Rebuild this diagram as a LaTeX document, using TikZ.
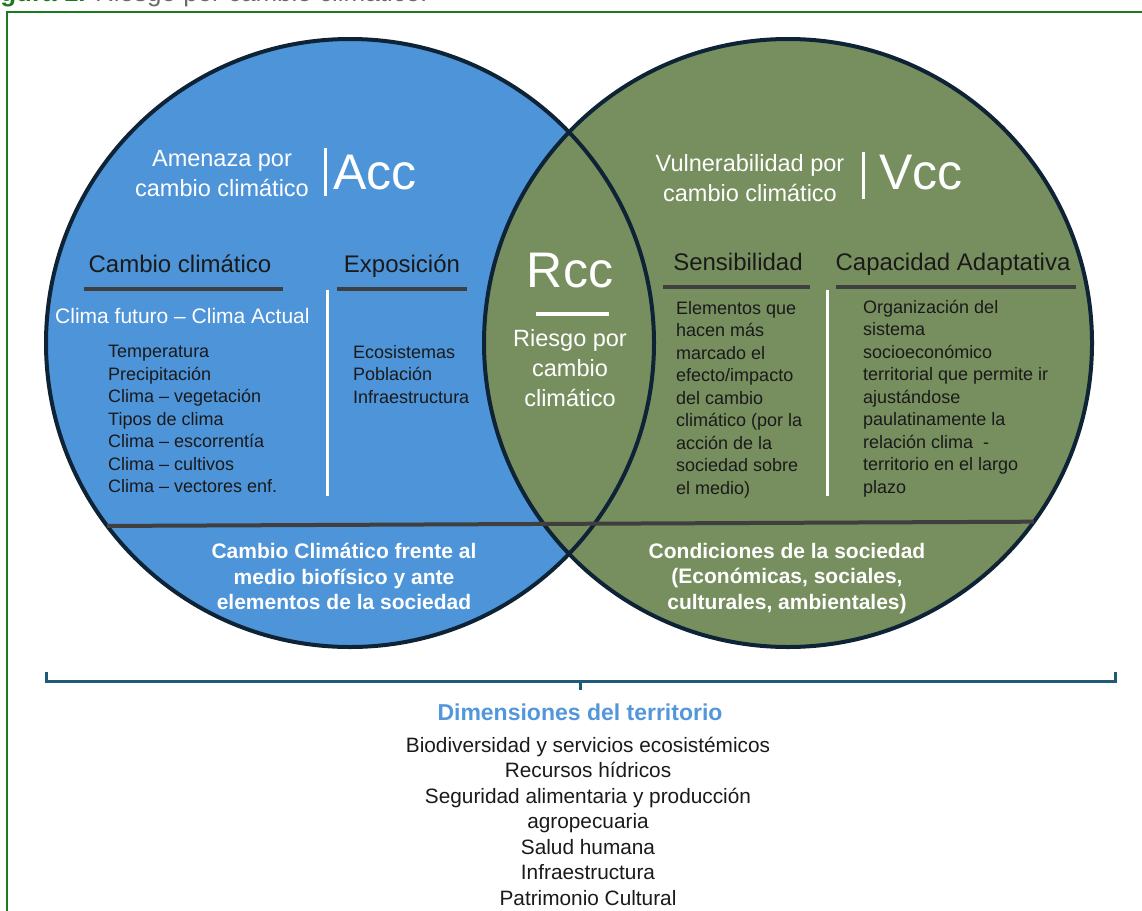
\documentclass[tikz,border=0pt]{standalone}
\usepackage{fontspec}
\setmainfont{Liberation Sans}
\usepackage{tikz}
\usetikzlibrary{positioning}
\definecolor{accblue}{HTML}{4E94D9}
\definecolor{vccgreen}{HTML}{778F5F}
\definecolor{rimnavy}{HTML}{0E2436}
\definecolor{inkdark}{HTML}{1A1A1A}
\definecolor{rulegray}{HTML}{3F3F3F}
\definecolor{braceteal}{HTML}{1F5B78}
\definecolor{titleblue}{HTML}{5296DC}
\definecolor{framegreen}{HTML}{1E7A1E}
\definecolor{capgray}{HTML}{6B6B6B}
\tikzset{
    disc/.style={circle, minimum size=608pt, inner sep=0pt, outer sep=0pt},
    bigtag/.style={text=white, font=\fontsize{50}{50}\selectfont, inner sep=0pt, anchor=west},
    whitehead/.style={text=white, font=\fontsize{23.5}{30}\selectfont, align=center, inner sep=0pt, anchor=north},
    colhead/.style={text=inkdark, font=\fontsize{24}{28}\selectfont, inner sep=0pt, anchor=base},
    itemlist/.style={text=inkdark, font=\fontsize{18}{22.5}\selectfont, align=left, inner sep=0pt, anchor=north west},
    baseblock/.style={text=white, font=\bfseries\fontsize{21}{25.5}\selectfont, align=center, inner sep=0pt, anchor=north},
    headrule/.style={rulegray, line width=4pt},
    whiterule/.style={white, line width=3pt},
    bracket/.style={braceteal, line width=3pt},
}
\begin{document}
\begin{tikzpicture}[x=1pt, y=-1pt]
  \useasboundingbox (0,0) rectangle (1142,910);
  % frame and caption
  \draw[framegreen, line width=2pt] (7,930) -- (7,12) -- (1160,12);
  \node[anchor=base west, inner sep=0pt, font=\fontsize{26}{26}\selectfont] (caption) at (-23,1.5)
    {\textcolor{framegreen}{\bfseries Figura 1.} \textcolor{capgray}{Riesgo por cambio climático.}};

  % the two circles
  \node[disc, fill=accblue]  (acc) at (350,343) {};
  \node[disc, fill=vccgreen] (vcc) at (788,343) {};
  \node[disc, draw=rimnavy, line width=4pt] (accrim) at (acc) {};
  \node[disc, draw=rimnavy, line width=4pt] (vccrim) at (vcc) {};
  \draw[headrule] (acc.-143.2) -- (vcc.-36.8);

  % amenaza
  \node[whitehead] (accname) at (222,150) {Amenaza por\\cambio climático};
  \draw[whiterule] (325,148) -- (325,196);
  \node[bigtag] (acctag) at (333,173) {Acc};

  \node[colhead] (cchead) at (180,272) {Cambio climático};
  \draw[headrule] (84,289) -- (283,289);
  \node[colhead] (exphead) at (402,272) {Exposición};
  \draw[headrule] (337,289) -- (467,289);
  \draw[whiterule] (327,290) -- (327,496);

  \node[anchor=base west, inner sep=0pt, text=white, font=\fontsize{21}{25}\selectfont] (ccdiff) at (55,323) {Clima futuro – Clima Actual};
  \node[itemlist] (cclist) at (108,345) {Temperatura\\Precipitación\\Clima – vegetación\\Tipos de clima\\Clima – escorrentía\\Clima – cultivos\\Clima – vectores enf.};
  \node[itemlist] (explist) at (353,345) {Ecosistemas\\Población\\Infraestructura};

  % riesgo
  \node[bigtag, anchor=base] (rcctag) at (570,287) {Rcc};
  \draw[white, line width=4pt] (536,314) -- (609,314);
  \node[whitehead] (rccname) at (570,329) {Riesgo por\\cambio\\climático};

  % vulnerabilidad
  \node[whitehead] (vccname) at (750,154) {Vulnerabilidad por\\cambio climático};
  \draw[whiterule] (863,152) -- (863,199);
  \node[bigtag] (vcctag) at (879,173) {Vcc};

  \node[colhead] (senhead) at (738,270) {Sensibilidad};
  \draw[headrule] (663,287) -- (810,287);
  \node[colhead] (caphead) at (953,270) {Capacidad Adaptativa};
  \draw[headrule] (836,287) -- (1076,287);
  \draw[whiterule] (827,290) -- (827,496);

  \node[itemlist] (senlist) at (676,301) {Elementos que\\hacen más\\marcado el\\efecto/impacto\\del cambio\\climático (por la\\acción de la\\sociedad sobre\\el medio)};
  \node[itemlist] (caplist) at (863,300) {Organización del\\sistema\\socioeconómico\\territorial que permite ir\\ajustándose\\paulatinamente la\\relación clima~ -\\territorio en el largo\\plazo};

  % bottom of the circles
  \node[baseblock] (accbase) at (344,543) {Cambio Climático frente al\\medio biofísico y ante\\elementos de la sociedad};
  \node[baseblock] (vccbase) at (787,543) {Condiciones de la sociedad\\(Económicas, sociales,\\culturales, ambientales)};

  % bracket and dimensions
  \draw[bracket] (46,672) -- (46,681) -- (1115,681) -- (1115,672);
  \draw[bracket] (580,681) -- (580,690);
  \node[anchor=base, inner sep=0pt, text=titleblue, font=\bfseries\fontsize{23}{28}\selectfont] (dimtitle) at (580,720) {Dimensiones del territorio};
  \node[anchor=north, inner sep=0pt, align=center, text=inkdark, font=\fontsize{20.8}{25.5}\selectfont] (dimlist) at (588,736.5)
    {Biodiversidad y servicios ecosistémicos\\Recursos hídricos\\Seguridad alimentaria y producción\\agropecuaria\\Salud humana\\Infraestructura\\Patrimonio Cultural};
\end{tikzpicture}
\end{document}
